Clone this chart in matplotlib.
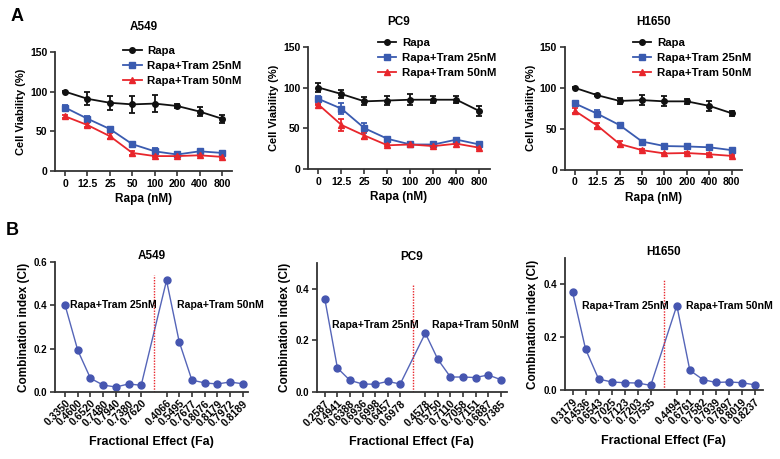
import matplotlib
matplotlib.use("Agg")
import matplotlib.pyplot as plt
import numpy as np

plt.rcParams['font.family'] = ['Liberation Sans', 'DejaVu Sans']
plt.rcParams['font.weight'] = 'bold'
plt.rcParams['axes.labelweight'] = 'bold'
plt.rcParams['axes.titleweight'] = 'bold'

## ---------------------------------------------------------------------------
## data: panel A (cell viability)
## ---------------------------------------------------------------------------
doses = ['0', '12.5', '25', '50', '100', '200', '400', '800']
cells = ['A549', 'PC9', 'H1650']

rapa_mean = {
    'A549': [100, 91, 86, 84, 85, 82, 75, 66],
    'PC9': [100, 92, 83, 84, 85, 85, 85, 71],
    'H1650': [100, 91, 84, 85, 83.5, 83.5, 78, 69],
}
rapa_err = {
    'A549': [0.5, 8, 9, 11, 11, 3, 6, 5],
    'PC9': [6, 5, 5, 5, 7, 4, 4, 6],
    'H1650': [0.5, 1, 4, 6, 6, 3, 6, 3],
}
tram25_mean = {
    'A549': [80, 66, 53, 34, 25, 21, 25, 23],
    'PC9': [86, 74, 50, 37, 30, 30, 36, 30],
    'H1650': [81, 68.5, 54.5, 34.5, 29, 28.5, 27.5, 24],
}
tram25_err = {
    'A549': [3, 3, 3, 3, 4, 2, 2, 2],
    'PC9': [3, 7, 6, 2, 1, 1, 1, 1],
    'H1650': [2, 4, 1, 1, 1, 1, 1, 1],
}
tram50_mean = {
    'A549': [69, 58, 44, 23, 19, 19, 20, 18],
    'PC9': [79, 54, 41, 29, 30, 28, 31, 26],
    'H1650': [72, 54, 31.5, 24, 20, 20.5, 19, 17],
}
tram50_err = {
    'A549': [2, 2, 4, 3, 1, 1, 1, 1],
    'PC9': [1, 7, 4, 1, 1, 1, 1, 1],
    'H1650': [3, 3, 4, 1, 1, 1, 1, 1],
}

## ---------------------------------------------------------------------------
## data: panel B (combination index)
## ---------------------------------------------------------------------------
fa_labels = {
    'A549': ['0.3350', '0.4600', '0.6520', '0.7480', '0.7940', '0.7380', '0.7620',
             '0.4066', '0.5495', '0.7677', '0.8076', '0.8179', '0.7972', '0.8189'],
    'PC9': ['0.2587', '0.4941', '0.6388', '0.6936', '0.6998', '0.6457', '0.6978',
            '0.4578', '0.5750', '0.7110', '0.7058', '0.7151', '0.6887', '0.7385'],
    'H1650': ['0.3179', '0.4536', '0.6543', '0.7025', '0.7123', '0.7203', '0.7535',
              '0.4494', '0.6761', '0.7582', '0.7939', '0.7897', '0.8019', '0.8237'],
}
ci_values = {
    'A549': [0.40, 0.192, 0.063, 0.032, 0.023, 0.037, 0.031,
             0.515, 0.232, 0.055, 0.042, 0.037, 0.046, 0.038],
    'PC9': [0.36, 0.093, 0.045, 0.031, 0.030, 0.041, 0.031,
            0.228, 0.126, 0.058, 0.058, 0.056, 0.066, 0.048],
    'H1650': [0.371, 0.155, 0.042, 0.031, 0.028, 0.027, 0.018,
              0.32, 0.075, 0.040, 0.029, 0.031, 0.028, 0.020],
}

## ---------------------------------------------------------------------------
## layout (figure fractions) and styling
## ---------------------------------------------------------------------------
top_boxes = {
    'A549': [0.0705, 0.627, 0.227, 0.260],
    'PC9': [0.395, 0.632, 0.233, 0.266],
    'H1650': [0.724, 0.630, 0.227, 0.268],
}
bot_boxes = {
    'A549': [0.0705, 0.146, 0.247, 0.283],
    'PC9': [0.406, 0.146, 0.244, 0.281],
    'H1650': [0.724, 0.150, 0.254, 0.288],
}
bot_ylim = {'A549': (0, 0.6), 'PC9': (0, 0.5), 'H1650': (0, 0.5)}
bot_yticks = {'A549': [0.0, 0.2, 0.4, 0.6], 'PC9': [0.0, 0.2, 0.4], 'H1650': [0.0, 0.2, 0.4]}
bot_xlim = {'A549': (-0.8, 14.4), 'PC9': (-0.65, 14.5), 'H1650': (-0.6, 14.6)}
vline_top = {'A549': 0.54, 'PC9': 0.42, 'H1650': 0.418}
ann_pos = {
    'A549': [(0.4, 0.40), (8.8, 0.40)],
    'PC9': [(0.6, 0.26), (8.5, 0.26)],
    'H1650': [(0.7, 0.32), (8.7, 0.32)],
}
legend_anchor = {'A549': (0.36, 1.09), 'PC9': (0.36, 1.11), 'H1650': (0.36, 1.11)}

c_black = '#111111'
c_blue = '#3A5BB0'
c_red = '#E8262C'
c_ci = '#4656B0'
c_ci_line = '#5565B8'
spine_col = '#333333'


def style_axes(ax):
    for s in ['top', 'right']:
        ax.spines[s].set_visible(False)
    for s in ['left', 'bottom']:
        ax.spines[s].set_linewidth(1.3)
        ax.spines[s].set_color(spine_col)
    ax.tick_params(width=1.2, length=3.5, color=spine_col, labelsize=7.5, pad=2)


fig = plt.figure(figsize=(7.8, 4.59), dpi=100)

## panel A
for cell in cells:
    ax = fig.add_axes(top_boxes[cell])
    x = np.arange(len(doses))
    ax.errorbar(x, rapa_mean[cell], yerr=rapa_err[cell], color=c_black, marker='o', ms=4,
                lw=1.3, capsize=2.5, elinewidth=1.3, capthick=1.3, label='Rapa')
    ax.errorbar(x, tram25_mean[cell], yerr=tram25_err[cell], color=c_blue, marker='s', ms=4,
                lw=1.3, capsize=2.5, elinewidth=1.3, capthick=1.3, label='Rapa+Tram 25nM')
    ax.errorbar(x, tram50_mean[cell], yerr=tram50_err[cell], color=c_red, marker='^', ms=4,
                lw=1.3, capsize=2.5, elinewidth=1.3, capthick=1.3, label='Rapa+Tram 50nM')
    ax.set_xlim(-0.45, 7.45)
    ax.set_ylim(0, 150)
    ax.set_yticks([0, 50, 100, 150])
    ax.set_xticks(x)
    ax.set_xticklabels(doses)
    style_axes(ax)
    ax.set_xlabel('Rapa (nM)', fontsize=8.5, labelpad=3)
    ax.set_ylabel('Cell Viability (%)', fontsize=8, labelpad=3)
    ax.set_title(cell, fontsize=8.5, pad=16)
    handles, labels = ax.get_legend_handles_labels()
    handles = [h[0] for h in handles]
    ax.legend(handles, labels, loc='upper left', bbox_to_anchor=legend_anchor[cell],
              frameon=False, fontsize=8.2, handlelength=1.6, handletextpad=0.5,
              labelspacing=0.45, borderaxespad=0)

## panel B
for cell in cells:
    ax = fig.add_axes(bot_boxes[cell])
    pos = list(range(7)) + list(range(8, 15))
    ax.plot(pos, ci_values[cell], color=c_ci_line, lw=1.0, marker='o', ms=5,
            markerfacecolor=c_ci, markeredgecolor=c_ci)
    ax.plot([7, 7], [0, vline_top[cell]], color=c_red, lw=1.0, ls=(0, (1, 1)))
    ax.set_xlim(*bot_xlim[cell])
    ax.set_ylim(*bot_ylim[cell])
    ax.set_yticks(bot_yticks[cell])
    ax.set_yticklabels(['%.1f' % v for v in bot_yticks[cell]])
    ax.set_xticks(pos)
    ax.set_xticklabels(fa_labels[cell], rotation=45, ha='right', rotation_mode='anchor',
                       fontsize=7.2)
    style_axes(ax)
    ax.tick_params(axis='x', pad=1)
    ax.tick_params(axis='y', labelsize=7)
    ax.set_ylabel('Combination index (CI)', fontsize=8.5, labelpad=3)
    ax.set_xlabel('Fractional Effect (Fa)', fontsize=9, labelpad=6)
    ax.set_title(cell, fontsize=8.5, pad=-3)
    (x1, y1), (x2, y2) = ann_pos[cell]
    ax.text(x1, y1, 'Rapa+Tram 25nM', fontsize=7.6, va='center', ha='left', clip_on=False)
    ax.text(x2, y2, 'Rapa+Tram 50nM', fontsize=7.6, va='center', ha='left', clip_on=False)

fig.text(0.013, 0.965, 'A', fontsize=13, fontweight='bold', va='center')
fig.text(0.007, 0.498, 'B', fontsize=13, fontweight='bold', va='center')

fig.savefig('out.png', dpi=100, facecolor='white')
